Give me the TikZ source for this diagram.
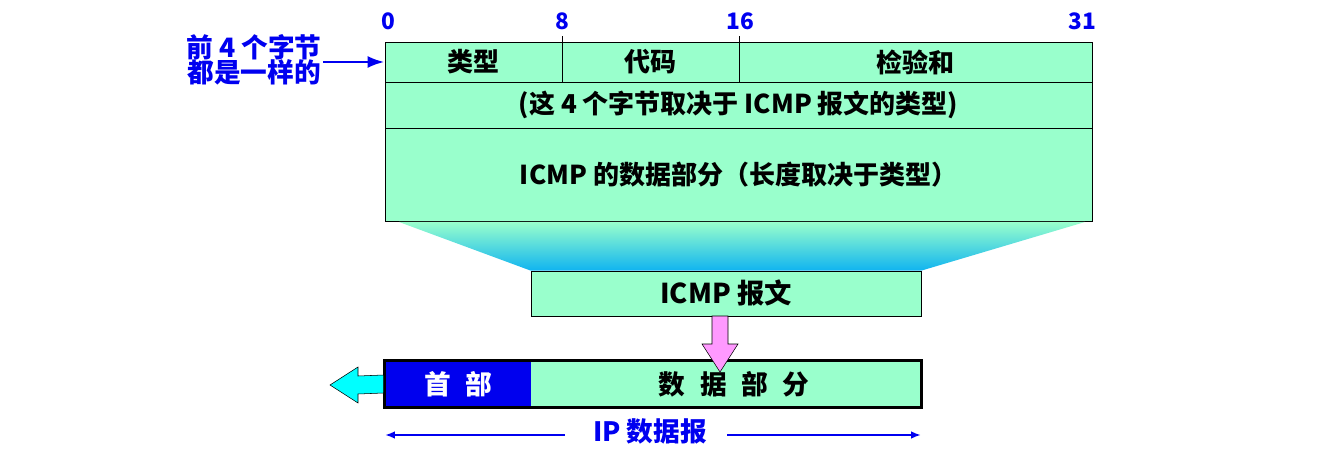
\documentclass[tikz,border=0pt]{standalone}
\usepackage{fontspec}
\setmainfont{Noto Sans CJK SC}
\usepackage{tikz}
\usetikzlibrary{
  arrows.meta,
  positioning,
  calc
}
\definecolor{icGreen}{HTML}{99FFCC}
\definecolor{icBlue}{HTML}{0000F0}
\definecolor{icHead}{HTML}{0000EE}
\definecolor{icCyan}{HTML}{00FFFF}
\definecolor{icSky}{HTML}{10B4F0}
\definecolor{icPink}{HTML}{FF99FF}
\newcommand{\gap}{\hspace{0.55em}}
\tikzset{
  cell/.style={
    draw, fill=icGreen, inner sep=0pt, font=\fontsize{19.5}{22}\selectfont\bfseries,
    align=center, line width=0.6pt
  },
  bitnum/.style={font=\fontsize{17}{19}\selectfont\bfseries, text=icBlue, inner sep=0pt},
  note/.style={font=\fontsize{20}{23}\selectfont\bfseries, text=icBlue, align=center, inner sep=1pt},
  noteline/.style={-{Latex[length=4.5mm, width=3.2mm]}, line width=2.2pt, icBlue},
  spanline/.style={{Latex[length=2.6mm, width=2mm]}-, line width=2pt, icBlue},
  fatarrow/.style={draw=black, line width=0.4pt}
}

\begin{document}
\begin{tikzpicture}[x=0.75pt, y=-0.75pt]
  \useasboundingbox (0,0) rectangle (1319,459);
  % ICMP header rows
  \node[cell, minimum width=132.75pt, minimum height=30pt] (type) at (473.5,62) {类型};
  \node[cell, minimum width=132.75pt, minimum height=30pt] (code) at (650.5,62) {代码};
  \node[cell, minimum width=264.75pt, minimum height=30pt] (csum) at (915.5,62) {检验和};
  \node[cell, minimum width=530.25pt, minimum height=34.5pt] (rest) at (738.5,105) {(这 4 个字节取决于 ICMP 报文的类型)};
  \node[cell, minimum width=530.25pt, minimum height=69.75pt] (body) at (738.5,174.5) {ICMP 的数据部分（长度取决于类型）};
  \draw[line width=0.6pt] (type.north east) -- ++(0,-6);
  \draw[line width=0.6pt] (code.north east) -- ++(0,-6);
  % bit positions
  \node[bitnum] (b0) at (388,21) {0};
  \node[bitnum] (b8) at (562,21) {8};
  \node[bitnum] (b16) at (740,21) {16};
  \node[bitnum] (b31) at (1082,21) {31};
  % left note
  \node[note] (same) at (254,60) {前 4 个字节\\[-4pt]都是一样的};
  \draw[noteline] (same.east |- type.west) -- (type.west);
  % funnel and ICMP message
  \coordinate (fnlA) at (399,222);
  \coordinate (fnlB) at (1085,222);
  \node[cell, minimum width=292.5pt, minimum height=33.75pt] (msg) at (726,293.5) {};
  \shade[top color=icGreen, bottom color=icSky] (fnlA) -- (fnlB) -- (msg.north east) -- (msg.north west) -- cycle;
  \node[cell, minimum width=292.5pt, minimum height=33.75pt, font=\fontsize{20.5}{23}\selectfont\bfseries] at (msg) {ICMP 报文};
  % IP datagram
  \node[cell, draw=none, fill=icHead, text=white, minimum width=109.5pt, minimum height=34.5pt, font=\fontsize{20}{22}\selectfont\bfseries] (hdr) at (458,384) {首\gap 部};
  \node[cell, draw=none, minimum width=292.5pt, minimum height=34.5pt, font=\fontsize{20}{22}\selectfont\bfseries] (data) at (726,384) {\hspace*{12pt}数\gap 据\gap 部\gap 分};
  \draw[line width=2.4pt] (hdr.north west) rectangle (data.south east);
  % pink arrow into data part
  \coordinate (pkTip) at (720,372);
  \draw[fatarrow, fill=icPink] (712,316) -- (728,316) -- (728,344) -- (738,344) -- (pkTip) -- (702,344) -- (712,344) -- cycle;
  % cyan arrow out of header
  \coordinate (cyTip) at (330,385);
  \draw[fatarrow, fill=icCyan] (hdr.west) ++(-1,-9) -- (358,376) -- (358,367) -- (cyTip) -- (358,403) -- (358,394) -- ($(hdr.west)+(-1,9)$) -- cycle;
  % datagram span
  \node[font=\fontsize{20}{22}\selectfont\bfseries, text=icBlue, inner sep=0pt] (dgram) at (650,431) {IP 数据报};
  \coordinate (dgL) at (385,435);
  \coordinate (dgR) at (921,435);
  \draw[spanline] (dgL) -- (565,435);
  \draw[spanline] (dgR) -- (727,435);
\end{tikzpicture}
\end{document}
